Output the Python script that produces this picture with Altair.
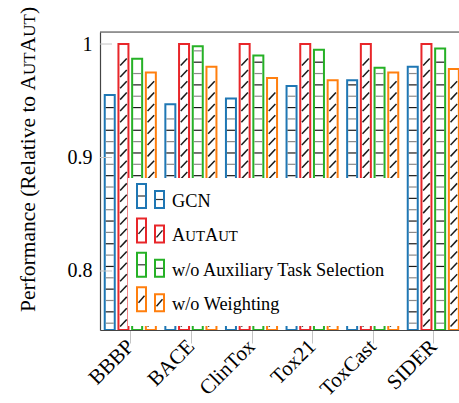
import altair as alt
import pandas as pd

# ---------------- data ----------------
categories = ["BBBP", "BACE", "ClinTox", "Tox21", "ToxCast", "SIDER"]
series = ["GCN", "AutAut", "w/o Auxiliary Task Selection", "w/o Weighting"]
gcn = [0.955, 0.947, 0.952, 0.963, 0.968, 0.980]
autaut = [1.0, 1.0, 1.0, 1.0, 1.0, 1.0]
wo_aux = [0.987, 0.998, 0.990, 0.995, 0.979, 0.996]
wo_weight = [0.975, 0.980, 0.970, 0.968, 0.975, 0.978]
y_ticks = [0.8, 0.9, 1.0]
colors = ["#1f77b4", "#e8262a", "#26b126", "#ff7f0e"]
hatch_kind = ["h", "d", "h", "d"]

rows = []
for s, vals in enumerate([gcn, autaut, wo_aux, wo_weight]):
    for i, v in enumerate(vals):
        rows.append({"cat": categories[i], "i": i, "s": s, "series": series[s],
                     "value": v, "kind": hatch_kind[s]})
df = pd.DataFrame(rows)

# ---------------- layout ----------------
W, H = 359, 298
STEP = 60.6                      # px per category
PX = 1.0 / STEP                  # one pixel in x units
YDOM = [0.748, 1.0106]
xscale = alt.Scale(domain=[-0.5, -0.5 + W / STEP], nice=False, zero=False)
yscale = alt.Scale(domain=YDOM, nice=False, zero=False)
SERIF = "Liberation Serif"
FS = 20

label_expr = "[" + ",".join("'%s'" % c for c in categories) + "][datum.value]"

X_AX = alt.Axis(values=list(range(len(categories))), labelExpr=label_expr,
                title=None, grid=False, tickSize=13, tickColor="#c4c4c4",
                tickWidth=1, labelAngle=-45, labelAlign="right",
                labelBaseline="middle", labelFont=SERIF, labelFontSize=21,
                labelColor="black", labelPadding=0, labelOverlap=False,
                labelBound=False, domainColor="#444", domainWidth=1.2)
Y_AX = alt.Axis(values=y_ticks, format=".1~f", title=None, grid=False,
                tickSize=0, labelFont=SERIF, labelFontSize=FS,
                labelColor="black", labelPadding=8, labelOverlap=False,
                domainColor="#444", domainWidth=1.2)

base = alt.Chart(df).transform_calculate(
    xc="datum.i + (datum.s - 1.5) * %f" % (13.7 * PX),
    xl="datum.xc - %f" % (5 * PX),
    xr="datum.xc + %f" % (5 * PX),
    base="%f" % YDOM[0],
)

bars = base.mark_bar(fill="white", strokeWidth=2, clip=True).encode(
    x=alt.X("xl:Q", scale=xscale, axis=X_AX),
    x2="xr:Q",
    y=alt.Y("value:Q", scale=yscale, axis=Y_AX),
    y2="base:Q",
    stroke=alt.Stroke("series:N", scale=alt.Scale(domain=series, range=colors),
                      legend=None),
)

hlines = base.transform_filter("datum.kind == 'h'").transform_calculate(
    lv="sequence(0.754, datum.value - 0.003, 0.01)"
).transform_flatten(["lv"]).transform_calculate(
    hl="datum.xc - %f" % (4 * PX),
    hr="datum.xc + %f" % (4 * PX),
    shade="(round((datum.lv - 0.754) / 0.01) % 2 == 0) ? '#8a8a8a' : '#1a1a1a'",
).mark_rule(strokeWidth=1.2, clip=True).encode(
    x=alt.X("hl:Q", scale=xscale, axis=X_AX),
    x2="hr:Q",
    y=alt.Y("lv:Q", scale=yscale, axis=Y_AX),
    color=alt.Color("shade:N", scale=None),
)

dlines = base.transform_filter("datum.kind == 'd'").transform_calculate(
    lv="sequence(0.751, datum.value - 0.009, 0.01)"
).transform_flatten(["lv"]).transform_calculate(
    dl="datum.xc - %f" % (3.3 * PX),
    dr="datum.xc + %f" % (3.3 * PX),
    lv2="datum.lv + 0.0062",
).mark_rule(strokeWidth=1.5, color="#1a1a1a", clip=True).encode(
    x=alt.X("dl:Q", scale=xscale, axis=X_AX),
    x2="dr:Q",
    y=alt.Y("lv:Q", scale=yscale, axis=Y_AX),
    y2="lv2:Q",
)

ticks_in = alt.Chart(pd.DataFrame({"t": y_ticks})).mark_rule(
    color="#c4c4c4", strokeWidth=1).encode(
    y=alt.Y("t:Q", scale=yscale, axis=Y_AX),
    x=alt.value(0), x2=alt.value(12),
)

one = pd.DataFrame({"k": [0]})
top_line = alt.Chart(one).mark_rule(color="#444", strokeWidth=1.2).encode(
    y=alt.value(0), x=alt.value(0), x2=alt.value(W))

layers = [bars, hlines, dlines, ticks_in, top_line]

# ---------------- legend (drawn in pixels) ----------------
layers.append(alt.Chart(one).mark_rect(fill="white").encode(
    x=alt.value(28), x2=alt.value(306), y=alt.value(146), y2=alt.value(294)))

ROW = 34.4
for r in range(len(series)):
    dy = r * ROW
    for (x0, x1, y0, y1) in [(37, 46, 152, 176), (55, 64, 159, 176)]:
        layers.append(alt.Chart(one).mark_rect(
            fill="white", stroke=colors[r], strokeWidth=2).encode(
            x=alt.value(x0), x2=alt.value(x1),
            y=alt.value(y0 + dy), y2=alt.value(y1 + dy)))
        mid = (y0 + y1) / 2 + dy
        if hatch_kind[r] == "h":
            layers.append(alt.Chart(one).mark_rule(color="#333", strokeWidth=1.2).encode(
                x=alt.value(x0 + 1), x2=alt.value(x1 - 1),
                y=alt.value(mid), y2=alt.value(mid)))
        else:
            layers.append(alt.Chart(one).mark_rule(color="#1a1a1a", strokeWidth=1.4).encode(
                x=alt.value(x0 + 1.5), x2=alt.value(x1 - 1.5),
                y=alt.value(mid + 3.5), y2=alt.value(mid - 3.5)))

# Times-compatible advance widths (per em) for layout of small caps pieces
ADV = {"A": 0.722, "U": 0.722, "T": 0.611}

def caps_pieces(big, small):
    return [("A", big), ("UT", small), ("A", big), ("UT", small)]

LFS = 18.3
for r, name in enumerate(series):
    ybase = 174.7 + r * ROW
    if name == "AutAut":
        x = 72
        for txt, size in caps_pieces(LFS, 14.8):
            layers.append(alt.Chart(one).mark_text(
                text=txt, font=SERIF, fontSize=size, align="left",
                baseline="alphabetic", color="black").encode(
                x=alt.value(x), y=alt.value(ybase)))
            x += sum(ADV[c] for c in txt) * size
    else:
        layers.append(alt.Chart(one).mark_text(
            text=name, font=SERIF, fontSize=LFS, align="left",
            baseline="alphabetic", color="black").encode(
            x=alt.value(72), y=alt.value(ybase)))

# ---------------- y-axis title (rotated, with small caps) ----------------
TFS, TSM = 21.5, 17
title_first = "Performance (Relative to "
first_w = 10.303  # em width of title_first in Times metrics
pieces = [(title_first, TFS, first_w)] + \
         [(t, s, sum(ADV[c] for c in t)) for t, s in caps_pieces(TFS, TSM)] + \
         [(")", TFS, 0.333)]
ty = 280
for txt, size, em in pieces:
    layers.append(alt.Chart(one).mark_text(
        text=txt, font=SERIF, fontSize=size, align="left", baseline="alphabetic",
        angle=270, color="black").encode(x=alt.value(-65), y=alt.value(ty)))
    ty -= em * size

chart = alt.layer(*layers).properties(
    width=W, height=H,
    autosize=alt.AutoSizeParams(type="none"),
    padding={"left": 100, "top": 32, "right": 0, "bottom": 403 - 32 - H},
).configure_view(stroke=None).configure(background="white")

chart.save("out.html", embed_options={"renderer": "svg", "actions": False})
